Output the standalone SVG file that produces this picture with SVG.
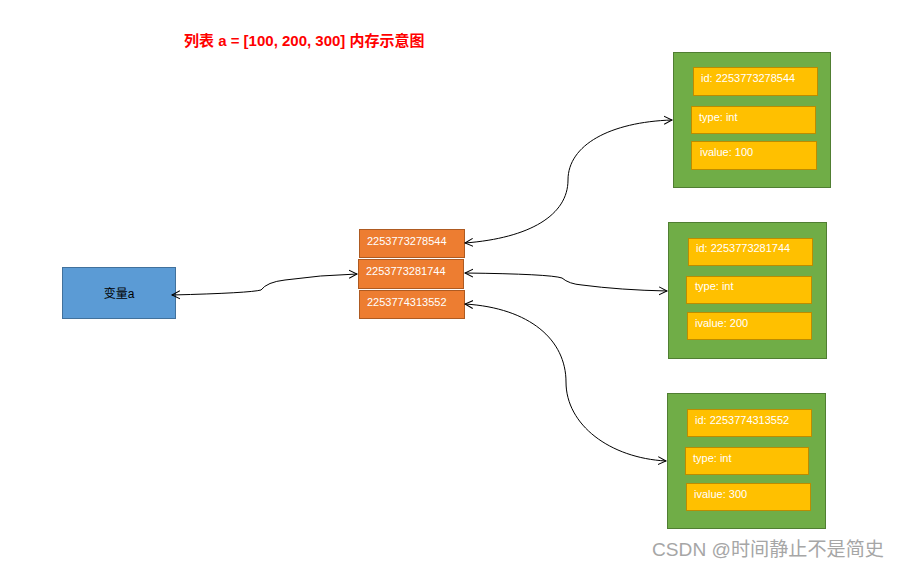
<svg xmlns="http://www.w3.org/2000/svg" width="898" height="568" viewBox="0 0 898 568">
<style>
.t{font-family:"Liberation Sans","Noto Sans CJK SC",sans-serif;font-size:11px;fill:#fff}
.blue{fill:#5B9BD5;stroke:#41719C;stroke-width:1}
.orange{fill:#ED7D31;stroke:#AE5A21;stroke-width:1}
.green{fill:#70AD47;stroke:#507E32;stroke-width:1}
.yellow{fill:#FFC000;stroke:#BC8C00;stroke-width:1}
.conn{fill:none;stroke:#000;stroke-width:1;marker-start:url(#arr);marker-end:url(#arr)}
</style>
<defs>
<marker id="arr" markerUnits="userSpaceOnUse" markerWidth="10" markerHeight="10" refX="8" refY="4" orient="auto-start-reverse" viewBox="0 0 10 8">
<path d="M0,0 L8,4 L0,8" fill="none" stroke="#000" stroke-width="1"/>
</marker>
</defs>
<rect width="898" height="568" fill="#fff"/>
<text x="184" y="46" font-family="'Liberation Sans','Noto Sans CJK SC',sans-serif" font-size="15" font-weight="bold" fill="#FF0000">列表 a = [100, 200, 300] 内存示意图</text>

<g id="var-a">
<rect class="blue" x="62.500" y="267.500" width="113" height="51"/>
<text x="119" y="298" text-anchor="middle" font-family="'Liberation Sans','Noto Sans CJK SC',sans-serif" font-size="12" fill="#000">变量a</text>
</g>

<g id="ref1">
<rect class="orange" x="359.500" y="229.500" width="105" height="28"/>
<text class="t" x="367" y="245">2253773278544</text>
</g>
<g id="ref2">
<rect class="orange" x="358.500" y="259.500" width="105" height="29"/>
<text class="t" x="366" y="275">2253773281744</text>
</g>
<g id="ref3">
<rect class="orange" x="359.500" y="290.500" width="105" height="28"/>
<text class="t" x="367" y="306">2253774313552</text>
</g>

<g id="obj100">
<rect class="green" x="673.500" y="52.500" width="157" height="135"/>
<rect class="yellow" x="693.500" y="67.500" width="124" height="28"/>
<text class="t" x="701" y="82">id: 2253773278544</text>
<rect class="yellow" x="691.500" y="106.500" width="124" height="27"/>
<text class="t" x="699" y="121">type: int</text>
<rect class="yellow" x="691.500" y="141.500" width="125" height="28"/>
<text class="t" x="700" y="156">ivalue: 100</text>
</g>

<g id="obj200">
<rect class="green" x="668.500" y="222.500" width="158" height="136"/>
<rect class="yellow" x="688.500" y="238.500" width="124" height="27"/>
<text class="t" x="696" y="252">id: 2253773281744</text>
<rect class="yellow" x="686.500" y="276.500" width="125" height="27"/>
<text class="t" x="695" y="290">type: int</text>
<rect class="yellow" x="687.500" y="312.500" width="124" height="27"/>
<text class="t" x="695" y="327">ivalue: 200</text>
</g>

<g id="obj300">
<rect class="green" x="667.500" y="393.500" width="158" height="135"/>
<rect class="yellow" x="687.500" y="409.500" width="124" height="27"/>
<text class="t" x="695" y="424">id: 2253774313552</text>
<rect class="yellow" x="685.500" y="447.500" width="123" height="27"/>
<text class="t" x="693" y="462">type: int</text>
<rect class="yellow" x="686.500" y="483.500" width="124" height="27"/>
<text class="t" x="694" y="498">ivalue: 300</text>
</g>

<g id="connectors">
<path class="conn" d="M172,295 Q250,293 261,290 Q267,282 285,280 Q320,275 357,274"/>
<path class="conn" d="M465,243 C530,238 568,215 568,180 C568,145 610,122 672,120"/>
<path class="conn" d="M465,273 Q550,274 562,278 Q569,284 582,285 Q620,290 667,291"/>
<path class="conn" d="M465,304 C530,308 566,340 566,382 C566,425 610,458 666,461"/>
</g>

<text x="652" y="556" font-family="'Liberation Sans','Noto Sans CJK SC',sans-serif" font-size="19" fill="#A6A6A6" textLength="232" lengthAdjust="spacingAndGlyphs">CSDN @时间静止不是简史</text>
</svg>
